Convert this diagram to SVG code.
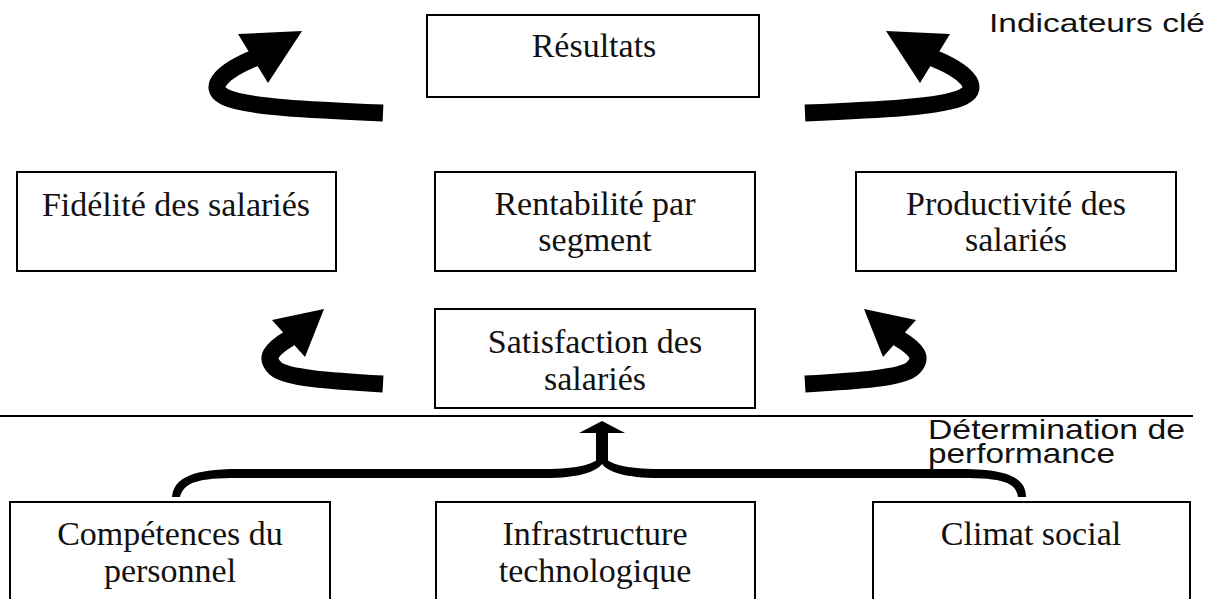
<svg xmlns="http://www.w3.org/2000/svg" width="1221" height="599" viewBox="0 0 1221 599">
  <style>
    .box { fill: #ffffff; stroke: #000000; stroke-width: 2; }
    .lbl { font-family: "Liberation Serif", "Times New Roman", serif; font-size: 34px; fill: #111111; text-anchor: middle; }
    .note { font-family: "Liberation Sans", Arial, sans-serif; fill: #111111; }
    .curve { fill: none; stroke: #000000; stroke-width: 17; }
    .head { fill: #000000; }
  </style>
  <rect width="1221" height="599" fill="#ffffff"/>

  <!-- section labels -->
  <text class="note" x="989" y="32" font-size="26" textLength="216" lengthAdjust="spacingAndGlyphs">Indicateurs clé</text>
  <text class="note" x="928" y="439" font-size="28" textLength="257" lengthAdjust="spacingAndGlyphs">Détermination de</text>
  <text class="note" x="928" y="463" font-size="28" textLength="187" lengthAdjust="spacingAndGlyphs">performance</text>

  <!-- separator -->
  <line x1="0" y1="416" x2="1193" y2="416" stroke="#000000" stroke-width="2"/>

  <g id="resultats">
    <rect class="box" x="427" y="15" width="332" height="82"/>
    <text class="lbl" x="594" y="57">Résultats</text>
  </g>
  <g id="fidelite">
    <rect class="box" x="17" y="172" width="319" height="99"/>
    <text class="lbl" x="176" y="216">Fidélité des salariés</text>
  </g>
  <g id="rentabilite">
    <rect class="box" x="435" y="172" width="320" height="99"/>
    <text class="lbl" x="595" y="215">Rentabilité par</text>
    <text class="lbl" x="595" y="251">segment</text>
  </g>
  <g id="productivite">
    <rect class="box" x="856" y="172" width="320" height="99"/>
    <text class="lbl" x="1016" y="215">Productivité des</text>
    <text class="lbl" x="1016" y="251">salariés</text>
  </g>
  <g id="satisfaction">
    <rect class="box" x="435" y="309" width="320" height="99"/>
    <text class="lbl" x="595" y="353">Satisfaction des</text>
    <text class="lbl" x="595" y="390">salariés</text>
  </g>
  <g id="competences">
    <rect class="box" x="10" y="502" width="320" height="120"/>
    <text class="lbl" x="170" y="545">Compétences du</text>
    <text class="lbl" x="170" y="582">personnel</text>
  </g>
  <g id="infrastructure">
    <rect class="box" x="436" y="502" width="319" height="120"/>
    <text class="lbl" x="595" y="545">Infrastructure</text>
    <text class="lbl" x="595" y="582">technologique</text>
  </g>
  <g id="climat">
    <rect class="box" x="873" y="502" width="317" height="120"/>
    <text class="lbl" x="1031" y="545">Climat social</text>
  </g>

  <g id="connectors">
    <!-- upper curved arrows -->
    <path class="curve" d="M383,113 C310,110 245,107 225,97 C205,87 225,70 255,58"/>
    <polygon class="head" points="238,34 302,31 268,83"/>
    <path class="curve" d="M805,113 C878,110 943,107 963,97 C983,87 963,70 933,58"/>
    <polygon class="head" points="950,34 886,31 920,83"/>
    <!-- middle curved arrows -->
    <path class="curve" d="M383,384 C330,381 285,378 275,368 C265,358 270,350 290,338"/>
    <polygon class="head" points="272,320 324,309 305,357"/>
    <path class="curve" d="M805,384 C858,381 903,378 913,368 C923,358 918,350 898,338"/>
    <polygon class="head" points="916,320 864,309 883,357"/>
    <!-- brace gathering the three drivers -->
    <path d="M172,497 C174,478 192,469 238,469 L545,469 C578,469 596,464 602,455 C608,464 626,469 659,469 L962,469 C1008,469 1026,478 1026,497 L1018,497 C1016,482 1002,478 962,478 L659,478 C626,478 608,472 602,464 C596,472 578,478 545,478 L238,478 C198,478 184,482 180,497 Z" fill="#000000"/>
    <!-- central upward arrow -->
    <rect x="596" y="431" width="12" height="30" fill="#000000"/>
    <polygon class="head" points="579,433 602,421 625,433"/>
  </g>
</svg>
